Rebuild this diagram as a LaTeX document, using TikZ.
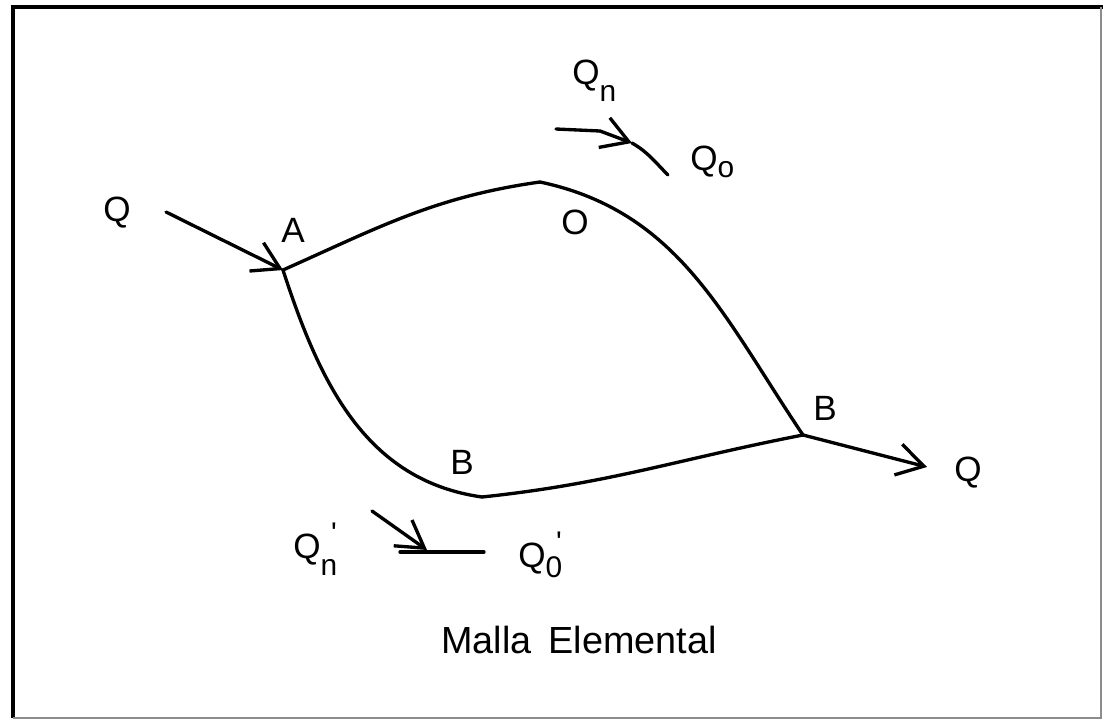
\documentclass[tikz,border=0pt]{standalone}
\usepackage{fontspec}
\setmainfont{Liberation Sans}
\usetikzlibrary{arrows.meta}

\newcommand{\dsub}[2]{\raisebox{#1}{\fontsize{17}{20}\selectfont #2}}
\newcommand{\primemark}{\rlap{\raisebox{0.42em}{\hspace{0.3em}\fontsize{17}{20}\selectfont\textquotesingle}}}

\begin{document}
\begin{tikzpicture}[
    x=0.02cm, y=-0.02cm,
    % Line Styles
    pipe/.style={line width=1.9pt, line cap=round, line join=round},
    flow/.style={pipe, -{Straight Barb[length=15pt, width=18pt, line width=1.9pt]}},
    frameline/.style={line width=2.2pt},
    % Text Styles
    lbl/.style={font=\fontsize{20}{24}\selectfont, inner sep=0pt},
    sublbl/.style={lbl, anchor=base west},
    caption/.style={font=\fontsize{21.5}{26}\selectfont, inner sep=0pt}
]

% =========================================================
% FRAME
% =========================================================
\useasboundingbox (0,0) rectangle (1103,720);
\draw[frameline] (13,718) -- (13,7) -- (1103,7);
\draw[line width=1.2pt, black!45] (13,718) -- (1101,718) -- (1101,7);

% =========================================================
% MESH: junctions
% =========================================================
\coordinate (A) at (283,270);
\coordinate (O) at (540,182);
\coordinate (Bright) at (803,435);
\coordinate (Blow) at (482,497);

% Branches
\draw[pipe] (A) to[out=24, in=188] (O);
\draw[pipe] (O) to[out=-12, in=124] (Bright);
\draw[pipe] (A) to[out=-72, in=172] (Blow);
\draw[pipe] (Blow) to[out=6, in=191] (Bright);

% Junction labels
\node[lbl] (labA) at (293,230) {A};
\node[lbl] (labO) at (575,222) {O};
\node[lbl] (labBr) at (825,408) {B};
\node[lbl] (labBl) at (462,462) {B};

% =========================================================
% INFLOW / OUTFLOW
% =========================================================
\node[lbl] (Qin) at (117,213) {Q};
\coordinate (inStart) at (166,212);
\draw[flow] (inStart) -- (A);

\node[lbl] (Qout) at (968,473) {Q};
\coordinate (outEnd) at (927,467);
\draw[flow] (Bright) -- (outEnd);

% =========================================================
% UPPER BRANCH FLOWS
% =========================================================
\node[sublbl] (Qn) at (572,84) {Q\dsub{-0.5em}{n}};
\node[sublbl] (Qo) at (690,170) {Q\dsub{-0.2em}{o}};

\coordinate (qnStart) at (556,129);
\coordinate (qnBend) at (600,131);
\coordinate (qnTip) at (632,143);
\coordinate (qnEnd) at (668,175);
\draw[pipe] (qnStart) -- (qnBend);
\draw[flow] (qnBend) -- (qnTip);
\draw[pipe] (qnTip) to[out=-30, in=135] (qnEnd);

% =========================================================
% LOWER BRANCH FLOWS
% =========================================================
\node[sublbl] (Qnp) at (293,558) {Q\primemark\dsub{-0.5em}{n}};
\node[sublbl] (Qop) at (518,567) {Q\primemark\dsub{-0.3em}{0}};

\coordinate (qlStart) at (372,511);
\coordinate (qlTip) at (427,550);
\coordinate (hStart) at (400,552);
\coordinate (hEnd) at (484,552);
\draw[flow] (qlStart) -- (qlTip);
\draw[pipe] (hStart) -- (hEnd);

% =========================================================
% CAPTION
% =========================================================
\node[caption] (title) at (579,640) {Malla \,Elemental};

\end{tikzpicture}
\end{document}
